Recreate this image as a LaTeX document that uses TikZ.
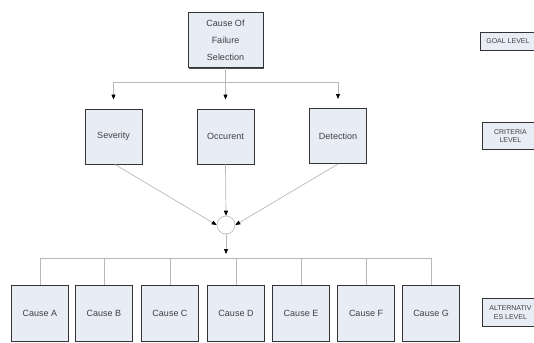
\documentclass[tikz,border=0pt]{standalone}
\usepackage{fontspec}
\setmainfont{Liberation Sans}
\usetikzlibrary{arrows.meta,shadows}
\definecolor{boxfill}{HTML}{E8ECF5}
\definecolor{conn}{HTML}{B8B8B8}
\tikzset{
  hbox/.style={draw=black!80, line width=1pt, fill=boxfill, minimum width=57pt, minimum height=55pt,
    inner sep=1pt, align=center, font=\fontsize{9}{17}\selectfont, text=black!75,
    drop shadow={shadow xshift=0.9pt, shadow yshift=-0.9pt, fill=black!70, opacity=1}},
  lvl/.style={draw=black!80, line width=0.8pt, fill=boxfill, anchor=west, inner sep=1pt, align=center,
    font=\fontsize{7}{8.5}\selectfont, text=black!75,
    drop shadow={shadow xshift=0.8pt, shadow yshift=-0.8pt, fill=black!70, opacity=1}},
  conline/.style={draw=conn, line width=0.7pt},
  arr/.style={conline, -{Triangle[length=5pt,width=4pt,fill=black,color=black]}},
}
\begin{document}
\begin{tikzpicture}[x=1pt,y=-1pt]
\useasboundingbox (0,0) rectangle (534,342);
\clip (0,0) rectangle (534,342);
% goal
\node[hbox, minimum width=75pt] (goal) at (225.5,40.5) {Cause Of\\Failure\\Selection};
% criteria
\node[hbox] (sev) at (113.5,136.5) {Severity};
\node[hbox] (occ) at (225.5,136.5) {Occurent};
\node[hbox] (det) at (338,136) {Detection};
% junction
\node[circle, draw=conn, fill=white, line width=0.6pt, minimum size=18pt, inner sep=0pt] (j) at (226,225) {};
% alternatives
\foreach \n/\x/\t in {ca/40/A,cb/104/B,cc/170/C,cd/236/D,ce/301/E,cf/366/F,cg/431/G}{
  \node[hbox, minimum height=56pt] (\n) at (\x,313) {Cause \t};
}
% level labels
\node[lvl, minimum width=55pt, minimum height=18pt] (gl) at (480,41) {GOAL LEVEL};
\node[lvl, minimum width=56pt, minimum height=27pt] (cl) at (482,136) {CRITERIA\\LEVEL};
\node[lvl, minimum width=56pt, minimum height=28pt] (al) at (482,312.5) {ALTERNATIV\\ES LEVEL};
% connectors goal -> criteria
\coordinate (tb) at (225.5,82);
\draw[conline] (goal.south) -- (tb);
\draw[conline] (sev.north |- tb) -- (det.north |- tb);
\draw[arr, shorten >=9pt] (sev.north |- tb) -- (sev.north);
\draw[arr, shorten >=9pt] (tb) -- (occ.north);
\draw[arr, shorten >=9pt] (det.north |- tb) -- (det.north);
% criteria -> junction
\draw[arr] ([xshift=1.5pt]sev.south) -- (j.west);
\draw[arr] (occ.south) -- (j.north);
\draw[arr] (det.south) -- (j.east);
% junction -> alternatives
\coordinate (bb) at (226,258);
\draw[arr, shorten >=4pt] (j.south) -- (bb);
\draw[conline] (ca.north |- bb) -- (cg.north |- bb);
\foreach \n in {ca,cb,cc,cd,ce,cf,cg}{
  \draw[conline] (\n.north |- bb) -- (\n.north);
}
\end{tikzpicture}
\end{document}
